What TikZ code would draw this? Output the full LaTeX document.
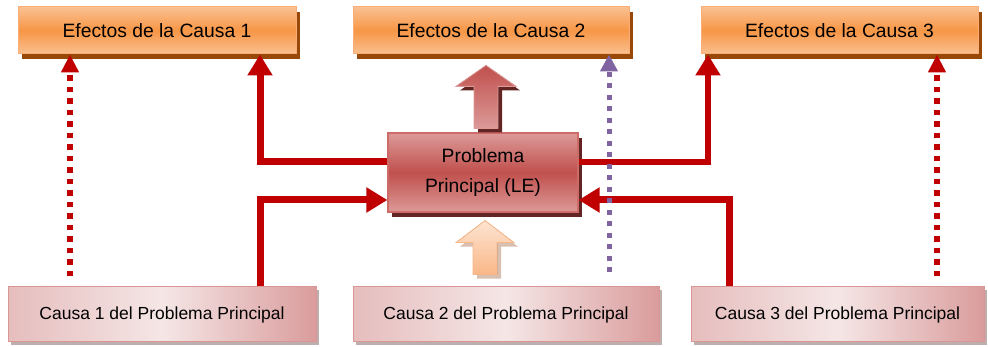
\documentclass[tikz,border=0pt]{standalone}
\usepackage{fontspec}
\setmainfont{Liberation Sans}
\usetikzlibrary{shadows,arrows.meta,calc}
\definecolor{arrRed}{HTML}{C00000}
\definecolor{orMid}{HTML}{F79646}
\definecolor{orLight}{HTML}{FAC090}
\definecolor{orBorder}{HTML}{F9AE78}
\definecolor{orShadow}{HTML}{984807}
\definecolor{pMid}{HTML}{C0504D}
\definecolor{pLight}{HTML}{DC9A98}
\definecolor{pBorder}{HTML}{CD6B69}
\definecolor{pShadow}{HTML}{632523}
\definecolor{cLeft}{HTML}{E6BDBD}
\definecolor{cMid}{HTML}{F5E6E6}
\definecolor{cRight}{HTML}{DA9C9C}
\definecolor{cBorder}{HTML}{D99694}
\definecolor{cShadow}{HTML}{BFAEAE}
\definecolor{purp}{HTML}{8064A2}
\definecolor{peachA}{HTML}{FAB787}
\definecolor{peachB}{HTML}{FDE4D2}
\definecolor{peachShadow}{HTML}{D8BFB0}
\begin{document}
\begin{tikzpicture}[x=1pt,y=-1pt,
  effbox/.style={draw=orBorder, line width=1pt, top color=orLight, bottom color=orLight, middle color=orMid,
    minimum height=47pt, inner sep=0pt, font=\fontsize{19.3}{23}\selectfont,
    drop shadow={shadow xshift=4pt,shadow yshift=-5pt,fill=orShadow,opacity=1}},
  probbox/.style={draw=pBorder, line width=1.2pt, top color=pLight, bottom color=pLight, middle color=pMid,
    minimum width=190pt, minimum height=79pt, inner sep=0pt, align=center, font=\fontsize{19.3}{29.5}\selectfont,
    drop shadow={shadow xshift=4pt,shadow yshift=-5pt,fill=pShadow,opacity=1}},
  causebox/.style={draw=cBorder, line width=1pt, left color=cLeft, right color=cRight, middle color=cMid,
    minimum height=55pt, inner sep=0pt, font=\fontsize{17.5}{21}\selectfont,
    drop shadow={shadow xshift=3pt,shadow yshift=-3pt,fill=cShadow,opacity=1}},
  redline/.style={draw=arrRed, line width=7pt, -{Triangle[length=21pt,width=24pt]}},
  dotarrow/.style={draw=arrRed, line width=5.5pt, dash pattern=on 5.5pt off 6pt, -{Triangle[length=18pt,width=17pt]}},
  purparrow/.style={draw=purp, line width=5pt, dash pattern=on 5pt off 6.5pt, -{Triangle[length=17pt,width=17pt]}}
]
\useasboundingbox (0,0) rectangle (988,347);

% top boxes
\node[effbox, minimum width=278pt] (E1) at (157,30.5) {Efectos de la Causa 1};
\node[effbox, minimum width=276pt] (E2) at (491,30.5) {Efectos de la Causa 2};
\node[effbox, minimum width=277pt] (E3) at (839.5,30.5) {Efectos de la Causa 3};

% central problem
\node[probbox] (P) at (483,172.5) {Problema\\Principal (LE)};

% bottom boxes
\node[causebox, minimum width=308pt] (C1) at (162,314.5) {Causa 1 del Problema Principal};
\node[causebox, minimum width=306pt] (C2) at (506,314.5) {Causa 2 del Problema Principal};
\node[causebox, minimum width=293pt] (C3) at (837.5,314.5) {Causa 3 del Problema Principal};

% block arrow P -> E2
\begin{scope}[shift={(P.north)}]
  \fill[pShadow, shift={(4,4)}] (-9,-4) -- (-9,-46) -- (-27,-46) -- (3,-67) -- (33,-46) -- (15,-46) -- (15,-4) -- cycle;
  \filldraw[draw=pLight, line width=0.8pt, top color=pMid, bottom color=pLight]
    (-9,-4) -- (-9,-46) -- (-27,-46) -- (3,-67) -- (33,-46) -- (15,-46) -- (15,-4) -- cycle;
\end{scope}

% block arrow C2 -> P
\begin{scope}[shift={(P.south)}]
  \fill[peachShadow, shift={(4,4)}] (-10,62) -- (-10,30) -- (-27,30) -- (2,8) -- (31,30) -- (14,30) -- (14,62) -- cycle;
  \filldraw[draw=peachA, line width=0.8pt, top color=peachB, bottom color=peachA]
    (-10,62) -- (-10,30) -- (-27,30) -- (2,8) -- (31,30) -- (14,30) -- (14,62) -- cycle;
\end{scope}

% solid red connectors
\draw[redline] ([yshift=10.5pt]P.west) -| ([xshift=103pt]E1.south);
\draw[redline] ([xshift=98pt]C1.north) |- ([yshift=-27.5pt]P.west);
\draw[redline, line width=5.5pt] ([yshift=10.5pt]P.east) -| ([xshift=-131.5pt]E3.south);
\draw[redline] ([xshift=-108.5pt]C3.north) |- ([yshift=-27.5pt]P.east);

% dotted connectors
\coordinate (e1d) at ([xshift=-87pt]E1.south);
\coordinate (c1a) at ([yshift=10pt]C1.north);
\draw[dotarrow] (e1d |- c1a) -- (e1d);

\coordinate (e2d) at ([xshift=118pt]E2.south);
\coordinate (c2a) at ([yshift=14pt]C2.north);
\draw[purparrow] (e2d |- c2a) -- (e2d);

\coordinate (e3d) at ([xshift=97.5pt]E3.south);
\coordinate (c3a) at ([yshift=10pt]C3.north);
\draw[dotarrow] (e3d |- c3a) -- (e3d);
\end{tikzpicture}
\end{document}
